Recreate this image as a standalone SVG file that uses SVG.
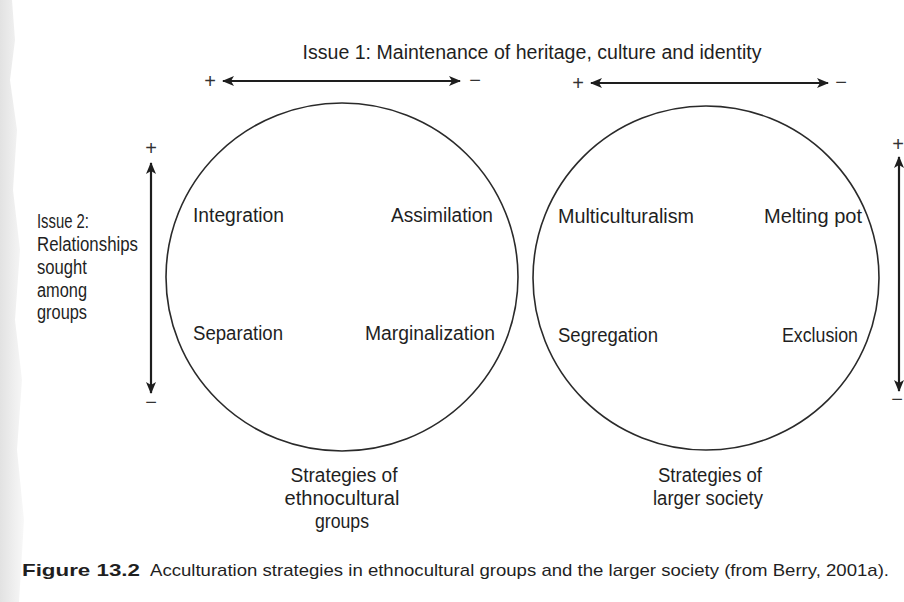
<svg xmlns="http://www.w3.org/2000/svg" width="904" height="602" viewBox="0 0 904 602">
<defs>
<marker id="ah" viewBox="0 0 12 10" refX="11" refY="5" markerWidth="12" markerHeight="10" markerUnits="userSpaceOnUse" orient="auto-start-reverse">
<path d="M0,0 L12,5 L0,10 L3,5 Z" fill="#1e1e1e"/>
</marker>
<linearGradient id="edge" x1="0" y1="0" x2="1" y2="0">
<stop offset="0" stop-color="#e2e2e2"/>
<stop offset="1" stop-color="#f8f8f8"/>
</linearGradient>
</defs>
<style>
text{font-family:"Liberation Sans Narrow","Liberation Sans",Arial,sans-serif;font-size:19.5px;fill:#1f1f1f}
.c{text-anchor:middle}
.b{font-weight:bold}
.cap{font-size:17px}
.ring{fill:none;stroke:#2a2a2a;stroke-width:1.6}
.arr{stroke:#1e1e1e;stroke-width:2.2;fill:none;marker-start:url(#ah);marker-end:url(#ah)}
.sign{font-size:20px;fill:#333}
</style>
<rect width="904" height="602" fill="#ffffff"/>
<path d="M0,0 H12 L15,40 L10,80 L17,130 L13,190 L20,250 L15,320 L22,380 L17,450 L24,520 L19,602 H0 Z" fill="url(#edge)"/>

<g id="issue1">
<text x="532" y="59" class="c" textLength="459" lengthAdjust="spacingAndGlyphs">Issue 1: Maintenance of heritage, culture and identity</text>
</g>

<g id="connectors">
<line class="arr" x1="223" y1="81" x2="460" y2="81"/>
<line class="arr" x1="591" y1="83" x2="828" y2="83"/>
<line class="arr" x1="151" y1="163" x2="151" y2="393"/>
<line class="arr" x1="899" y1="157" x2="899" y2="391"/>
</g>

<g id="signs">
<text x="210" y="88" class="c sign">+</text>
<text x="475" y="87" class="c sign">−</text>
<text x="578" y="90" class="c sign">+</text>
<text x="841" y="89" class="c sign">−</text>
<text x="151" y="155" class="c sign">+</text>
<text x="151" y="409" class="c sign">−</text>
<text x="898" y="151" class="c sign">+</text>
<text x="897" y="406" class="c sign">−</text>
</g>

<g id="issue2">
<text x="37" y="228" textLength="52" lengthAdjust="spacingAndGlyphs">Issue 2:</text>
<text x="37" y="251" textLength="101" lengthAdjust="spacingAndGlyphs">Relationships</text>
<text x="37" y="274" textLength="50" lengthAdjust="spacingAndGlyphs">sought</text>
<text x="37" y="297" textLength="50" lengthAdjust="spacingAndGlyphs">among</text>
<text x="37" y="319" textLength="50" lengthAdjust="spacingAndGlyphs">groups</text>
</g>

<g id="ethnocultural">
<ellipse class="ring" cx="342" cy="277" rx="176" ry="174"/>
<text x="193" y="222" textLength="91" lengthAdjust="spacingAndGlyphs">Integration</text>
<text x="391" y="222" textLength="102" lengthAdjust="spacingAndGlyphs">Assimilation</text>
<text x="193" y="340" textLength="90" lengthAdjust="spacingAndGlyphs">Separation</text>
<text x="365" y="340" textLength="130" lengthAdjust="spacingAndGlyphs">Marginalization</text>
<text x="344" y="482" class="c" textLength="107" lengthAdjust="spacingAndGlyphs">Strategies of</text>
<text x="342" y="505" class="c" textLength="115" lengthAdjust="spacingAndGlyphs">ethnocultural</text>
<text x="342" y="528" class="c" textLength="54" lengthAdjust="spacingAndGlyphs">groups</text>
</g>

<g id="larger-society">
<ellipse class="ring" cx="706" cy="278" rx="173" ry="172"/>
<text x="558" y="223" textLength="136" lengthAdjust="spacingAndGlyphs">Multiculturalism</text>
<text x="764" y="223" textLength="98" lengthAdjust="spacingAndGlyphs">Melting pot</text>
<text x="558" y="342" textLength="100" lengthAdjust="spacingAndGlyphs">Segregation</text>
<text x="782" y="342" textLength="76" lengthAdjust="spacingAndGlyphs">Exclusion</text>
<text x="710" y="482" class="c" textLength="104" lengthAdjust="spacingAndGlyphs">Strategies of</text>
<text x="708" y="505" class="c" textLength="110" lengthAdjust="spacingAndGlyphs">larger society</text>
</g>

<g id="caption">
<text x="22" y="576" class="b cap" textLength="118" lengthAdjust="spacingAndGlyphs">Figure 13.2</text>
<text x="150" y="576" class="cap" textLength="739" lengthAdjust="spacingAndGlyphs">Acculturation strategies in ethnocultural groups and the larger society (from Berry, 2001a).</text>
</g>
</svg>
